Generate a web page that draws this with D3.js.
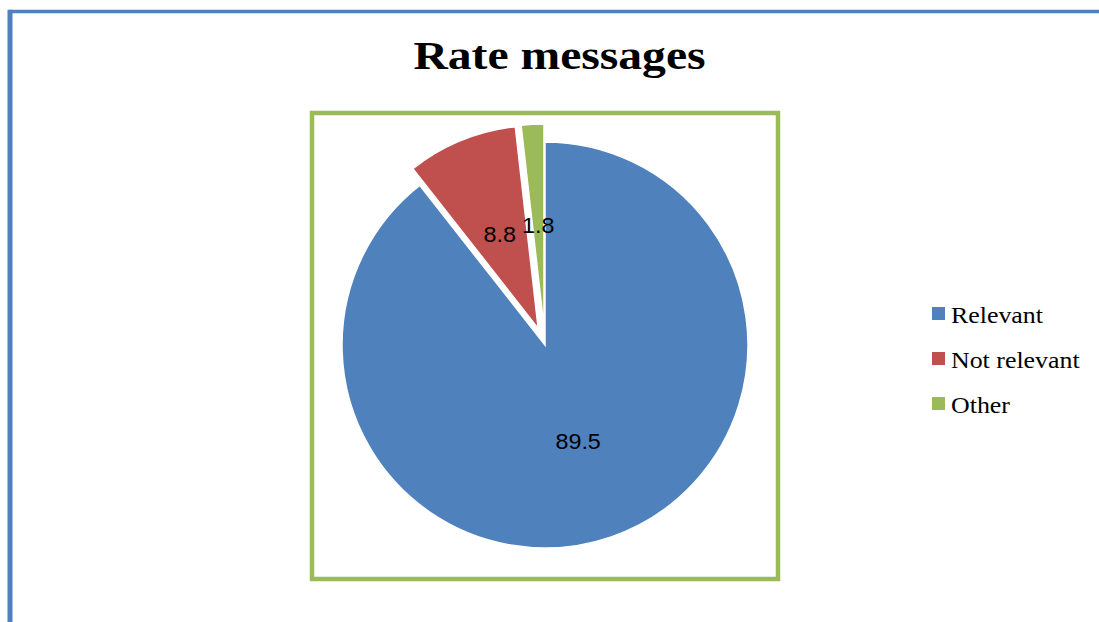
<!DOCTYPE html>
<html>
<head>
<meta charset="utf-8">
<script src="https://cdn.jsdelivr.net/npm/d3@7"></script>
<style>
  html, body { margin: 0; padding: 0; background: #fff; }
  svg { display: block; }
</style>
</head>
<body>
<svg id="chart" width="1099" height="622"></svg>
<script>
const title = "Rate messages";
const categories = ["Relevant", "Not relevant", "Other"];
const values = [89.5, 8.8, 1.8];
const labels = ["89.5", "8.8", "1.8"];
const colors = ["#4F81BD", "#C0504D", "#9BBB59"];
const exploded = [false, true, true];

const svg = d3.select("#chart");
const W = 1099, H = 622;

// outer frame (top + left lines)
svg.append("line").attr("x1", 10).attr("x2", W).attr("y1", 11.5).attr("y2", 11.5)
  .attr("stroke", "#4F81BD").attr("stroke-width", 3.5);
svg.append("line").attr("x1", 10).attr("x2", 10).attr("y1", 9.75).attr("y2", H)
  .attr("stroke", "#4F81BD").attr("stroke-width", 5);

// title
const t = svg.append("text")
  .attr("x", 559.5).attr("y", 69)
  .attr("text-anchor", "middle")
  .attr("font-family", "'Liberation Serif', 'Times New Roman', serif")
  .attr("font-weight", "bold")
  .attr("font-size", 40)
  .text(title);
t.attr("textLength", t.node().getComputedTextLength() * 1.19).attr("lengthAdjust", "spacingAndGlyphs");

// plot area box
svg.append("rect")
  .attr("x", 312).attr("y", 113).attr("width", 466).attr("height", 466)
  .attr("fill", "none").attr("stroke", "#9BBB59").attr("stroke-width", 4.5);

// pie
const cx = 545, cy = 345, R = 203, explode = 18;
const pie = d3.pie().sort(null).value(d => d)(values);
const arc = d3.arc().innerRadius(0).outerRadius(R);
const g = svg.append("g").attr("transform", `translate(${cx},${cy})`);

pie.forEach((p, i) => {
  const mid = (p.startAngle + p.endAngle) / 2;
  const off = exploded[i] ? explode : 0;
  const dx = Math.sin(mid) * off, dy = -Math.cos(mid) * off;
  const sg = g.append("g").attr("transform", `translate(${dx},${dy})`);
  sg.append("path").attr("d", arc(p)).attr("fill", colors[i])
    .attr("stroke", "#fff").attr("stroke-width", 1.5);
  const c = arc.centroid(p);
  sg.append("text")
    .attr("x", c[0]).attr("y", c[1])
    .attr("dy", "0.35em")
    .attr("text-anchor", "middle")
    .attr("font-family", "'Liberation Sans', Arial, sans-serif")
    .attr("font-size", 22)
    .attr("fill", "#000")
    .text(labels[i])
    .each(function() {
      d3.select(this).attr("textLength", this.getComputedTextLength() * 1.06)
        .attr("lengthAdjust", "spacingAndGlyphs");
    });
});

// legend
const leg = svg.append("g");
categories.forEach((name, i) => {
  const y = 307 + i * 45;
  leg.append("rect").attr("x", 932).attr("y", y).attr("width", 13).attr("height", 13)
    .attr("fill", colors[i]);
  const tx = leg.append("text")
    .attr("x", 951).attr("y", y + 16.3)
    .attr("font-family", "'Liberation Serif', 'Times New Roman', serif")
    .attr("font-size", 22.5)
    .attr("fill", "#000")
    .text(name);
  tx.attr("textLength", tx.node().getComputedTextLength() * 1.15).attr("lengthAdjust", "spacingAndGlyphs");
});
</script>
</body>
</html>
